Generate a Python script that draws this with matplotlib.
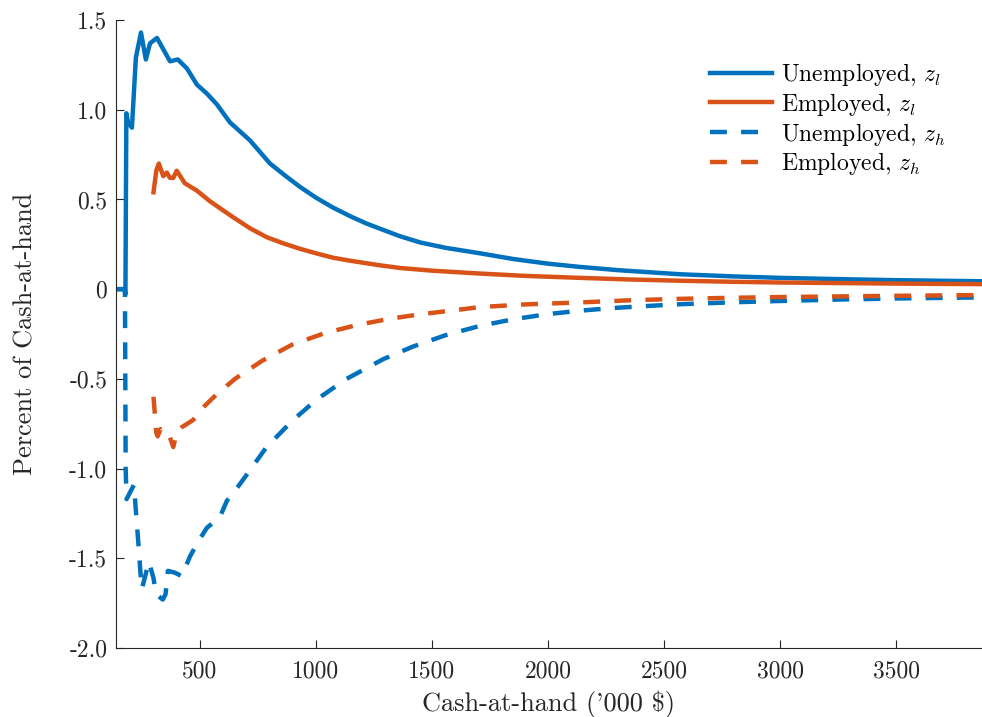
import numpy as np
import matplotlib
matplotlib.use("Agg")
import matplotlib.pyplot as plt

plt.rcParams['font.family'] = 'serif'
plt.rcParams['font.serif'] = ['cmr10', 'DejaVu Serif']
plt.rcParams['mathtext.fontset'] = 'cm'
plt.rcParams['axes.unicode_minus'] = False

# --- data ---
unemp_l_x = [138, 175, 179, 183, 190, 207, 224, 246, 267, 285, 315, 371, 405, 444, 487,
             530, 573, 629, 715, 802, 870, 931, 1000, 1073, 1150, 1219, 1290, 1362, 1450,
             1560, 1706, 1850, 2000, 2137, 2300, 2568, 2800, 3000, 3250, 3500, 3869]
unemp_l_y = [0, 0, -0.03, 0.98, 0.93, 0.90, 1.29, 1.43, 1.28, 1.37, 1.40, 1.27, 1.28, 1.23, 1.14,
             1.09, 1.03, 0.93, 0.83, 0.70, 0.63, 0.57, 0.51, 0.455, 0.405, 0.365, 0.33, 0.295, 0.26,
             0.23, 0.20, 0.168, 0.142, 0.124, 0.106, 0.083, 0.071, 0.063, 0.056, 0.050, 0.044]

emp_l_x = [300, 312, 323, 342, 357, 371, 385, 400, 435, 486, 543, 644, 715, 787, 860, 931,
           1000, 1074, 1150, 1275, 1362, 1500, 1706, 1900, 2137, 2350, 2568, 2800, 3000, 3500, 3869]
emp_l_y = [0.54, 0.66, 0.70, 0.63, 0.65, 0.62, 0.62, 0.66, 0.59, 0.55, 0.49, 0.40, 0.34, 0.29,
           0.255, 0.225, 0.20, 0.175, 0.158, 0.133, 0.118, 0.103, 0.087, 0.074, 0.063, 0.054,
           0.047, 0.041, 0.037, 0.031, 0.028]

unemp_h_x = [138, 177, 180, 184, 216, 222, 235, 246, 250, 280, 300, 310, 340, 352, 362, 392, 422,
             457, 491, 530, 586, 616, 659, 715, 787, 901, 1003, 1132, 1290, 1418, 1562, 1706,
             1849, 1993, 2137, 2281, 2425, 2568, 2800, 3000, 3250, 3500, 3869]
unemp_h_y = [0, 0, -1.00, -1.17, -1.09, -1.20, -1.42, -1.62, -1.67, -1.52, -1.61, -1.70, -1.73, -1.70,
             -1.57, -1.58, -1.60, -1.49, -1.41, -1.33, -1.27, -1.18, -1.11, -1.01, -0.88, -0.73,
             -0.615, -0.50, -0.39, -0.32, -0.255, -0.205, -0.168, -0.14, -0.12, -0.105, -0.094,
             -0.084, -0.073, -0.066, -0.058, -0.052, -0.046]

emp_h_x = [300, 312, 318, 330, 345, 364, 385, 400, 421, 470, 521, 569, 651, 767, 896, 1038,
           1176, 1318, 1450, 1580, 1706, 1900, 2137, 2353, 2568, 2800, 3000, 3500, 3869]
emp_h_y = [-0.60, -0.80, -0.82, -0.78, -0.80, -0.80, -0.88, -0.80, -0.77, -0.73, -0.65, -0.59,
           -0.50, -0.40, -0.31, -0.245, -0.20, -0.165, -0.14, -0.12, -0.10, -0.085, -0.074,
           -0.062, -0.054, -0.048, -0.044, -0.037, -0.033]

xticks = [500, 1000, 1500, 2000, 2500, 3000, 3500]
yticks = [1.5, 1.0, 0.5, 0, -0.5, -1.0, -1.5, -2.0]
ytick_labels = ['1.5', '1.0', '0.5', '0', '-0.5', '-1.0', '-1.5', '-2.0']

blue = '#0072BD'
orange = '#D95319'

fig = plt.figure(figsize=(9.82, 7.17), dpi=100)
ax = fig.add_axes([0.1178, 0.0962, 0.8822, 0.8759])

lw = 3.2
dash = (3.8, 3.2)
ax.plot(unemp_l_x, unemp_l_y, '-', color=blue, lw=lw, label=r'Unemployed, $z_l$')
ax.plot(emp_l_x, emp_l_y, '-', color=orange, lw=lw, label=r'Employed, $z_l$')
ax.plot(unemp_h_x, unemp_h_y, '--', color=blue, lw=lw, dashes=dash, label=r'Unemployed, $z_h$')
ax.plot(emp_h_x, emp_h_y, '--', color=orange, lw=lw, dashes=dash, label=r'Employed, $z_h$')

ax.set_xlim(137, 3870)
ax.set_ylim(-2.0, 1.5)
ax.set_xticks(xticks)
ax.set_xticklabels([str(t) for t in xticks])
ax.set_yticks(yticks)
ax.set_yticklabels(ytick_labels)

for s in ['top', 'right']:
    ax.spines[s].set_visible(False)
for s in ['left', 'bottom']:
    ax.spines[s].set_color('#262626')
    ax.spines[s].set_linewidth(0.8)
ax.tick_params(direction='in', length=5.5, width=0.8, color='#262626',
               labelsize=17, labelcolor='#262626')
ax.tick_params(axis='x', pad=9)
ax.tick_params(axis='y', pad=6)

ax.set_xlabel("Cash-at-hand ('000 \\$)", fontsize=19, color='#262626', labelpad=6)
ax.set_ylabel('Percent of Cash-at-hand', fontsize=19, color='#262626', labelpad=23)

ax.legend(loc='upper right', bbox_to_anchor=(0.969, 0.95), frameon=False, fontsize=17,
          handlelength=2.63, handletextpad=0.35, labelspacing=0.12, borderaxespad=0)

fig.savefig('out.png', dpi=100)
